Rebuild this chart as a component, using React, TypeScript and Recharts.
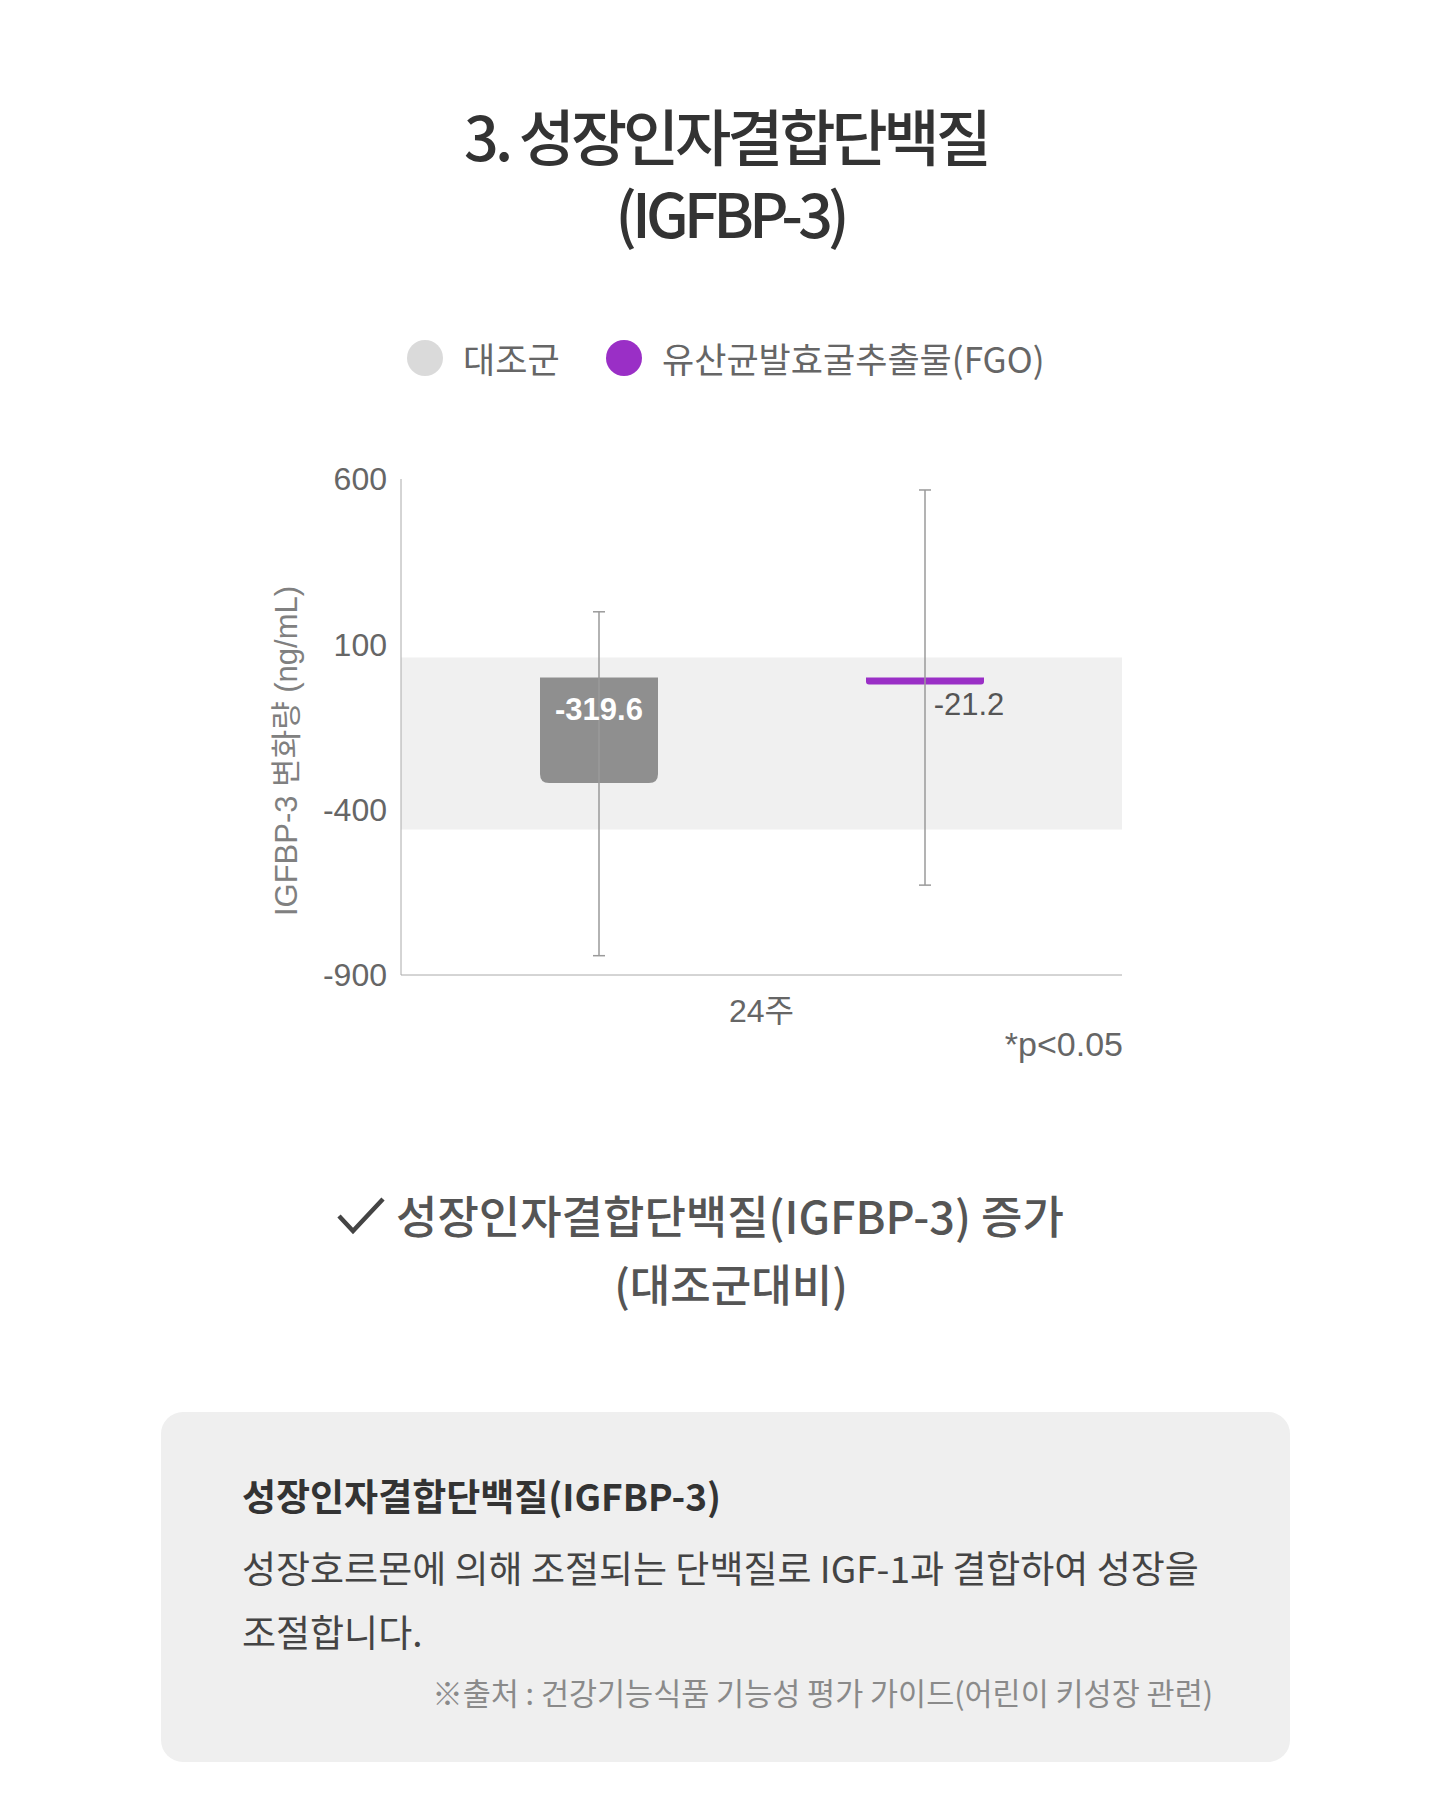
import React from 'react';
import { Bar, BarChart, ErrorBar, Label, LabelList, ReferenceArea, XAxis, YAxis } from 'recharts';

const categories = ['24주'];
const seriesNames = ['대조군', '유산균발효굴추출물(FGO)'];
const barColors = ['#8f8f8f', '#9a2fc6'];
const legendColors = ['#dadada', '#9a2fc6'];
const controlValues = [-319.6];
const fgoValues = [-21.2];
// [lower, upper] error from the mean
const controlErrors = [[522, 518]];
const fgoErrors = [[607, 588]];
const yTicks = [600, 100, -400, -900];
const bandRange = [60, -460];

const data = categories.map((name, i) => ({
  name,
  control: controlValues[i],
  fgo: fgoValues[i],
  controlErr: controlErrors[i],
  fgoErr: fgoErrors[i],
}));

const KR = "'Noto Sans CJK KR', 'Noto Sans', sans-serif";
const NUM = "'Liberation Sans', 'Noto Sans CJK KR', sans-serif";

function RoundedBottomBar(props: any) {
  const { x, y, width, height, fill, r = 8 } = props;
  const top = Math.min(y, y + height);
  const h = Math.abs(height);
  const rr = Math.min(r, h / 2, width / 2);
  const b = top + h;
  const d = `M${x},${top} H${x + width} V${b - rr} Q${x + width},${b} ${x + width - rr},${b} H${x + rr} Q${x},${b} ${x},${b - rr} Z`;
  return <path d={d} fill={fill} />;
}

function box(props: any) {
  const vb = props.viewBox ?? props;
  const top = Math.min(vb.y, vb.y + vb.height);
  return { x: vb.x, w: vb.width, top, bottom: top + Math.abs(vb.height) };
}

const controlLabel = (props: any) => {
  const b = box(props);
  return (
    <text x={b.x + b.w / 2} y={b.top + 32} textAnchor="middle" dominantBaseline="central"
      fill="#fff" fontSize={31} fontWeight={700} fontFamily={NUM}>
      {props.value}
    </text>
  );
};

const fgoLabel = (props: any) => {
  const b = box(props);
  return (
    <text x={b.x + b.w / 2 + 44} y={b.bottom + 20} textAnchor="middle" dominantBaseline="central"
      fill="#555" fontSize={31} fontFamily={NUM}>
      {props.value}
    </text>
  );
};

const yLabel = (props: any) => {
  const vb = props.viewBox;
  const cx = vb.x + 46;
  const cy = vb.y + vb.height / 2 + 24;
  return (
    <text x={cx} y={cy} transform={`rotate(-90, ${cx}, ${cy})`} textAnchor="middle"
      dominantBaseline="central" fill="#808080" fontSize={31} fontFamily={NUM}>
      IGFBP-3 변화량 (ng/mL)
    </text>
  );
};

function abs(left: number, top: number, extra: React.CSSProperties = {}): React.CSSProperties {
  return { position: 'absolute', left, top, whiteSpace: 'nowrap', ...extra };
}

export default function App() {
  return (
    <div style={{ position: 'absolute', left: 0, top: 0, width: 1440, height: 1800, background: '#fff', fontFamily: KR }}>
      {/* title */}
      <div style={abs(0, 105, { width: 1452, textAlign: 'center', fontSize: 61, lineHeight: '60px', letterSpacing: -4, color: '#333', fontWeight: 500 })}>
        3. 성장인자결합단백질
      </div>
      <div style={abs(0, 182, { width: 1460, textAlign: 'center', fontSize: 61, lineHeight: '60px', letterSpacing: -5, color: '#333', fontWeight: 500 })}>
        (IGFBP-3)
      </div>

      {/* legend */}
      {seriesNames.map((n, i) => {
        const cx = [425, 624][i];
        return (
          <React.Fragment key={n}>
            <div style={abs(cx - 18, 340, { width: 36, height: 36, borderRadius: 18, background: legendColors[i] })} />
            <div style={abs(cx + 38, 336, { fontSize: 35, lineHeight: '44px', color: '#666' })}>{n}</div>
          </React.Fragment>
        );
      })}

      {/* chart */}
      <div style={abs(240, 440)}>
        <BarChart width={900} height={640} data={data} margin={{ top: 39, right: 18, left: 0, bottom: 45 }}
          barSize={118} barGap={208} barCategoryGap={0}>
          <ReferenceArea y1={bandRange[0]} y2={bandRange[1]} fill="#f0f0f0" fillOpacity={1} stroke="none" />
          <XAxis dataKey="name" height={60} tickSize={0} tickMargin={24} axisLine={{ stroke: '#aaa' }}
            tick={{ fill: '#666', fontSize: 32, fontFamily: NUM }} />
          <YAxis type="number" domain={[-900, 600]} ticks={yTicks} interval={0} width={161} tickSize={0}
            tickMargin={14} axisLine={{ stroke: '#aaa' }} tick={{ fill: '#666', fontSize: 32, fontFamily: NUM }}>
            <Label content={yLabel} />
          </YAxis>
          <Bar dataKey="control" name={seriesNames[0]} fill={barColors[0]} isAnimationActive={false}
            shape={(p: any) => <RoundedBottomBar {...p} r={9} />}>
            <ErrorBar dataKey="controlErr" width={6} stroke="#9a9a9a" strokeWidth={1.5} />
            <LabelList dataKey="control" content={controlLabel} />
          </Bar>
          <Bar dataKey="fgo" name={seriesNames[1]} fill={barColors[1]} isAnimationActive={false}
            shape={(p: any) => <RoundedBottomBar {...p} r={3} />}>
            <ErrorBar dataKey="fgoErr" width={6} stroke="#9a9a9a" strokeWidth={1.5} />
            <LabelList dataKey="fgo" content={fgoLabel} />
          </Bar>
        </BarChart>
      </div>
      <div style={abs(0, 1024, { width: 1123, textAlign: 'right', fontSize: 34, lineHeight: '40px', color: '#666', fontFamily: NUM })}>
        *p&lt;0.05
      </div>

      {/* conclusion */}
      <svg style={abs(336, 1196)} width={50} height={40}>
        <polyline points="3,20 17,35 47,3" fill="none" stroke="#444" strokeWidth={4.5} />
      </svg>
      <div style={abs(396, 1187, { fontSize: 45, lineHeight: '56px', color: '#555', fontWeight: 500 })}>
        성장인자결합단백질(IGFBP-3) 증가
      </div>
      <div style={abs(0, 1255, { width: 1462, textAlign: 'center', fontSize: 44, lineHeight: '56px', color: '#555', fontWeight: 500 })}>
        (대조군대비)
      </div>

      {/* info box */}
      <div style={abs(161, 1412, { width: 1129, height: 350, borderRadius: 22, background: '#efefef' })} />
      <div style={abs(242, 1472, { fontSize: 37, lineHeight: '46px', color: '#333', fontWeight: 700 })}>
        성장인자결합단백질(IGFBP-3)
      </div>
      <div style={abs(242, 1544, { fontSize: 37, lineHeight: '46px', color: '#444' })}>
        성장호르몬에 의해 조절되는 단백질로 IGF-1과 결합하여 성장을
      </div>
      <div style={abs(242, 1608, { fontSize: 37, lineHeight: '46px', color: '#444' })}>
        조절합니다.
      </div>
      <div style={abs(0, 1673, { width: 1213, textAlign: 'right', fontSize: 30.5, lineHeight: '38px', color: '#8a8a8a' })}>
        ※출처 : 건강기능식품 기능성 평가 가이드(어린이 키성장 관련)
      </div>
    </div>
  );
}
